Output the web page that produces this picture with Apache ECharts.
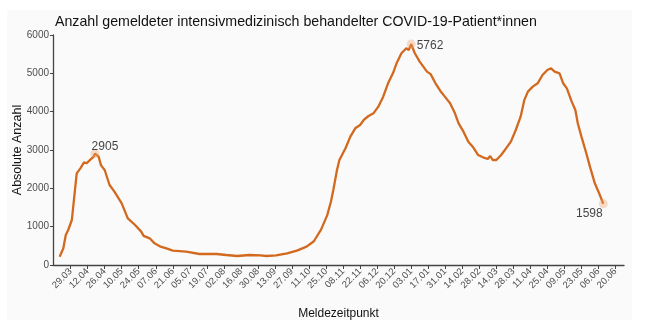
<!DOCTYPE html>
<html>
<head>
<meta charset="utf-8">
<script src="https://cdn.jsdelivr.net/npm/echarts@6/dist/echarts.min.js"></script>
<style>html,body{margin:0;padding:0;background:#fff;}#c{width:652px;height:329px;}</style>
</head>
<body>
<div id="c"></div>
<script>
// Tick labels (every 14 days starting 29.03.2020)
const tickLabels = ['29.03','12.04','26.04','10.05','24.05','07.06','21.06','05.07','19.07','02.08','16.08','30.08','13.09','27.09','11.10','25.10','08.11','22.11','06.12','20.12','03.01','17.01','31.01','14.02','28.02','14.03','28.03','11.04','25.04','09.05','23.05','06.06','20.06'];
// Days since 29.03.2020
const days = [-9,-6,-4,-2,1,3,5,8,11,13,16,19,20,23,25,28,32,36,42,47,53,58,60,65,69,74,80,84,95,106,120,128,137,147,156,161,169,178,186,194,200,206,211,214,216,219,221,226,230,234,238,241,245,249,253,257,261,265,268,272,276,278,280,283,287,293,296,300,304,308,312,316,319,323,327,331,335,339,343,345,347,350,354,358,362,366,370,373,376,380,384,388,392,395,398,402,405,408,412,415,417,420,424,427,431,434,438];
// Number of ICU COVID-19 patients
const values = [216,435,783,913,1174,1782,2392,2522,2679,2653,2740,2826,2905,2826,2600,2478,2087,1913,1609,1218,1043,870,760,696,565,478,420,374,348,287,287,261,235,261,252,235,252,304,374,478,620,930,1300,1650,1957,2478,2739,3044,3348,3566,3652,3783,3887,3957,4130,4391,4740,5001,5262,5523,5653,5610,5762,5523,5305,5044,4980,4740,4540,4380,4218,3957,3696,3478,3218,3070,2870,2809,2765,2844,2739,2739,2870,3044,3218,3522,3870,4300,4522,4653,4740,4957,5088,5131,5044,5001,4740,4609,4261,4044,3696,3348,2914,2565,2131,1913,1598];
// Highlighted points (indices into the arrays)
const highlightIdx = [12, 62, days.length - 1];

const tickDays = tickLabels.map((_, i) => i * 14);
const lineData = days.map((d, i) => [d, values[i]]);
const labelPos = [
  {position: 'top', offset: [10, 9]},
  {position: 'right', offset: [-4, 2]},
  {position: 'bottom', offset: [-14, -6]}
];
const hiData = highlightIdx.map((idx, k) => ({
  value: [days[idx], values[idx]],
  label: Object.assign({show: true, formatter: String(values[idx]), color: '#111', fontSize: 12, fontFamily: 'Liberation Sans'}, labelPos[k])
}));

const chart = echarts.init(document.getElementById('c'), null, {renderer: 'canvas'});
chart.setOption({
  animation: false,
  backgroundColor: '#ffffff',
  graphic: [{type: 'rect', shape: {x: 7, y: 10, width: 625, height: 310}, style: {fill: '#fafafa'}, z: -10, silent: true}],
  title: {
    text: 'Anzahl gemeldeter intensivmedizinisch behandelter COVID-19-Patient*innen',
    left: 50, top: 10,
    textStyle: {fontFamily: 'Liberation Sans', fontSize: 14.2, fontWeight: 'normal', color: '#111'}
  },
  grid: {left: 53, right: 28, top: 35, bottom: 64, containLabel: false, outerBoundsMode: 'none'},
  xAxis: {
    type: 'value', min: -14.5, max: 455,
    name: 'Meldezeitpunkt', nameLocation: 'middle', nameGap: 43, nameMoveOverlap: false,
    nameTextStyle: {fontFamily: 'Liberation Sans', fontSize: 12, color: '#111'},
    axisLine: {show: true, onZero: false, lineStyle: {color: '#444', width: 1.3}},
    axisTick: {show: true, length: 4, customValues: tickDays, lineStyle: {color: '#444'}},
    axisLabel: {
      customValues: tickDays, rotate: 45, fontSize: 9.5, color: '#4d4d4d', fontFamily: 'Liberation Sans', margin: 5,
      hideOverlap: false,
      formatter: v => tickLabels[Math.round(v / 14)]
    },
    splitLine: {show: false}
  },
  yAxis: {
    type: 'value', min: 0, max: 6000, interval: 1000,
    name: 'Absolute Anzahl', nameLocation: 'middle', nameGap: 29, nameMoveOverlap: false,
    nameTextStyle: {fontFamily: 'Liberation Sans', fontSize: 12.5, color: '#111'},
    axisLine: {show: true, onZero: false, lineStyle: {color: '#444', width: 1.3}},
    axisTick: {show: true, length: 3, lineStyle: {color: '#444'}},
    axisLabel: {fontSize: 10, color: '#4d4d4d', fontFamily: 'Liberation Sans', margin: 4, formatter: v => String(v)},
    splitLine: {show: false}
  },
  series: [
    {
      type: 'line', data: lineData, showSymbol: false, smooth: false,
      lineStyle: {color: '#d2691e', width: 2.3}, z: 2
    },
    {
      type: 'scatter', data: hiData, symbolSize: 9,
      itemStyle: {color: 'rgba(236,160,110,0.45)'}, z: 3
    }
  ]
});
</script>
</body>
</html>
